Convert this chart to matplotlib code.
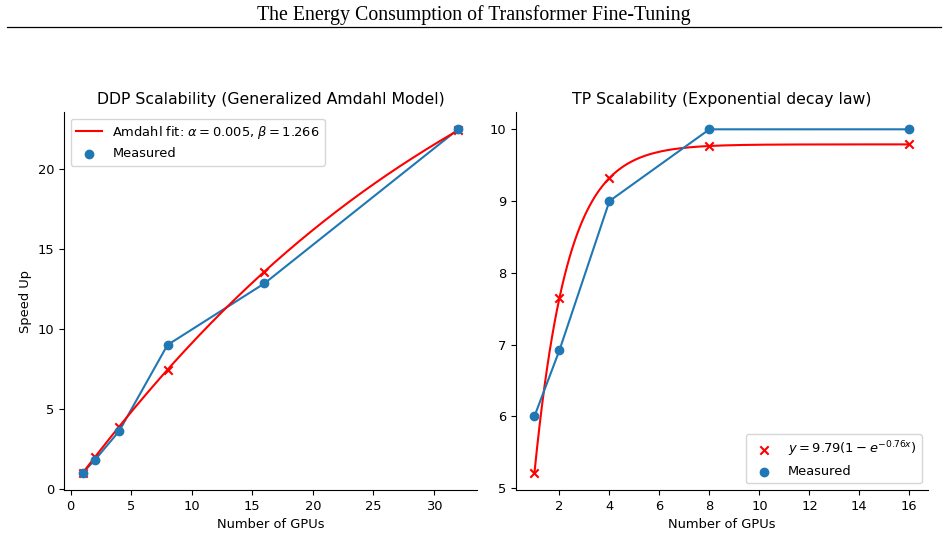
import numpy as np
import matplotlib.pyplot as plt
from matplotlib.lines import Line2D

# DDP measurements
ddp_gpus = [1, 2, 4, 8, 16, 32]
ddp_speedup = [1.0, 1.8, 3.6, 9.0, 12.85, 22.5]
ddp_alpha = 0.0053
ddp_beta = 1.266

# TP measurements
tp_gpus = [1, 2, 4, 8, 16]
tp_speedup = [6.0, 6.92, 9.0, 10.0, 10.0]
tp_a = 9.79
tp_k = 0.76


def amdahl(n, a, b):
    return n / (1 + a * n ** b)


def exp_decay(x, a, k):
    return a * (1 - np.exp(-k * x))


plt.rcParams['font.size'] = 9.4
plt.rcParams['axes.titlesize'] = 11.3

fig = plt.figure(figsize=(9.48, 5.34), dpi=100)
fig.text(0.5, 0.99, "The Energy Consumption of Transformer Fine-Tuning",
         ha='center', va='top', fontsize=14.3, family='Liberation Serif')
fig.add_artist(Line2D([0.007, 0.993], [0.949, 0.949], color='black', lw=0.9))

ax1 = fig.add_axes([0.0675, 0.0824, 0.4355, 0.7076])
ax2 = fig.add_axes([0.544, 0.0824, 0.435, 0.7076])

# left: DDP
xs = np.linspace(1, 32, 300)
ax1.plot(ddp_gpus, ddp_speedup, color='tab:blue')
ax1.plot(xs, amdahl(xs, ddp_alpha, ddp_beta), color='red',
         label=r'Amdahl fit: $\alpha = 0.005$, $\beta = 1.266$')
ax1.scatter(ddp_gpus, amdahl(np.array(ddp_gpus, dtype=float), ddp_alpha, ddp_beta),
            marker='x', color='red')
ax1.scatter(ddp_gpus, ddp_speedup, color='tab:blue', label='Measured', zorder=3)
ax1.set_title('DDP Scalability (Generalized Amdahl Model)')
ax1.set_xlabel('Number of GPUs')
ax1.set_ylabel('Speed Up')
ax1.legend(loc='upper left')

# right: TP
xs2 = np.linspace(1, 16, 300)
ax2.plot(xs2, exp_decay(xs2, tp_a, tp_k), color='red')
ax2.scatter(tp_gpus, exp_decay(np.array(tp_gpus, dtype=float), tp_a, tp_k),
            marker='x', color='red', label=r'$y = 9.79(1 - e^{-0.76x})$')
ax2.plot(tp_gpus, tp_speedup, color='tab:blue')
ax2.scatter(tp_gpus, tp_speedup, color='tab:blue', label='Measured', zorder=3)
ax2.set_title('TP Scalability (Exponential decay law)')
ax2.set_xlabel('Number of GPUs')
ax2.set_xticks([2, 4, 6, 8, 10, 12, 14, 16])
ax2.legend(loc='lower right')

for ax in (ax1, ax2):
    ax.spines['top'].set_visible(False)
    ax.spines['right'].set_visible(False)

fig.savefig('out.png', dpi=100)
